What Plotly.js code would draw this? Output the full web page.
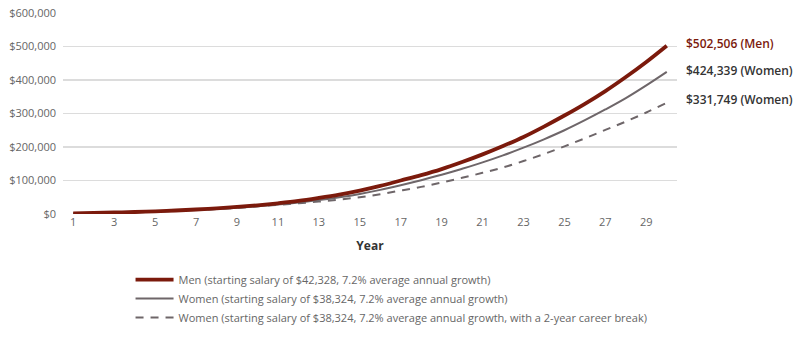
<!DOCTYPE html>
<html>
<head>
<meta charset="utf-8">
<script src="https://cdn.plot.ly/plotly-3.0.1.min.js"></script>
<style>html,body{margin:0;padding:0;background:#fff;}#chart{width:800px;height:344px;}</style>
</head>
<body>
<div id="chart"></div>
<script>
var years = [1,2,3,4,5,6,7,8,9,10,11,12,13,14,15,16,17,18,19,20,21,22,23,24,25,26,27,28,29,30];
var men = [1500,3000,4500,6000,8000,10500,13500,17000,21000,26000,32000,39000,48000,58000,70000,84000,100000,116000,134000,155000,178000,203000,230000,261000,294000,329000,367000,409000,454000,502506];
var women = [1300,2700,4000,5400,7200,9400,12000,15000,18600,23000,28000,34000,41500,50000,60000,72000,86000,101000,117000,135000,154000,175000,198000,223000,250000,280000,312000,346000,384000,424339];
var womenBreak = [1300,2700,4000,5400,7200,9400,12000,15000,18600,23000,27500,32000,37000,43000,50000,59000,70000,81000,94000,108000,123000,139000,158000,179000,202000,226000,251000,276000,303000,331749];
var seriesNames = [
  "Men (starting salary of $42,328, 7.2% average annual growth)",
  "Women (starting salary of $38,324, 7.2% average annual growth)",
  "Women (starting salary of $38,324, 7.2% average annual growth, with a 2-year career break)"
];
var endLabels = ["$502,506 (Men)", "$424,339 (Women)", "$331,749 (Women)"];
var xTicks = [1,3,5,7,9,11,13,15,17,19,21,23,25,27,29];
var yTicks = [0,100000,200000,300000,400000,500000,600000];
var yTickText = ["$0","$100,000","$200,000","$300,000","$400,000","$500,000","$600,000"];

var red = "#7b1a0c", grey = "#6e6669";
var font = "'Open Sans', 'DejaVu Sans', sans-serif";

var traces = [
  {x: years, y: men, name: seriesNames[0], type: "scatter", mode: "lines",
   line: {color: red, width: 3.8, shape: "spline"}},
  {x: years, y: women, name: seriesNames[1], type: "scatter", mode: "lines",
   line: {color: grey, width: 2, shape: "spline"}},
  {x: years, y: womenBreak, name: seriesNames[2], type: "scatter", mode: "lines",
   line: {color: grey, width: 2, dash: "8px,7px", shape: "spline"}}
];
traces = [traces[2], traces[1], traces[0]];

var lastIdx = years.length - 1;
var annotations = [
  {x: years[lastIdx], y: men[lastIdx], text: endLabels[0], color: red, yshift: 2},
  {x: years[lastIdx], y: women[lastIdx], text: endLabels[1], color: "#333333", yshift: 1},
  {x: years[lastIdx], y: womenBreak[lastIdx], text: endLabels[2], color: "#333333", yshift: 3}
].map(function(a){
  return {x: a.x, y: a.y, xref: "x", yref: "y", text: a.text, showarrow: false,
    xanchor: "left", yanchor: "middle", xshift: 17, yshift: a.yshift,
    font: {family: font, size: 12, color: a.color, weight: 600}};
});

var layout = {
  width: 800, height: 344,
  margin: {l: 63, r: 123, t: 13, b: 130, autoexpand: false},
  paper_bgcolor: "#fff", plot_bgcolor: "#fff",
  font: {family: font, size: 11, color: "#666"},
  showlegend: true,
  legend: {x: 0.11, xanchor: "left", y: -0.254, yanchor: "top", orientation: "v",
    traceorder: "reversed", font: {family: font, size: 11, color: "#666"},
    itemwidth: 38, tracegroupgap: 0, bgcolor: "rgba(0,0,0,0)"},
  xaxis: {range: [0.5, 30.5], tickmode: "array", tickvals: xTicks, showgrid: false,
    zeroline: false, showline: false, ticks: "", tickfont: {family: font, size: 11, color: "#666"},
    title: {text: "Year", font: {family: font, size: 12, color: "#333", weight: 700}, standoff: 13},
    automargin: false, fixedrange: true},
  yaxis: {range: [0, 600000], tickmode: "array", tickvals: yTicks, ticktext: yTickText,
    showgrid: true, gridcolor: "#dcdcdc", gridwidth: 1.5, zeroline: false, showline: false,
    ticks: "", ticklabelstandoff: 6, tickfont: {family: font, size: 11, color: "#666"},
    automargin: false, fixedrange: true},
  annotations: annotations
};
Plotly.newPlot("chart", traces, layout, {displayModeBar: false, staticPlot: true});
</script>
</body>
</html>
